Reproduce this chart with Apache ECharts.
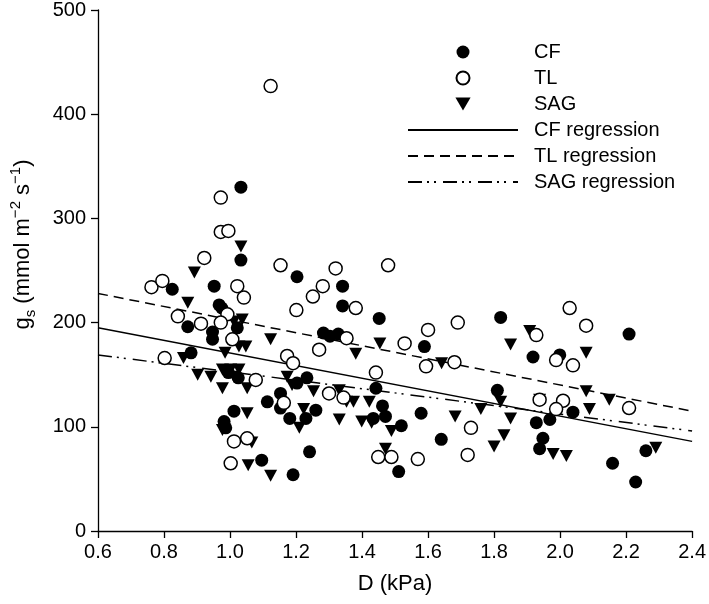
<!DOCTYPE html>
<html>
<head>
<meta charset="utf-8">
<script src="https://cdn.jsdelivr.net/npm/echarts@6/dist/echarts.min.js"></script>
<style>
html,body{margin:0;padding:0;background:#fff;}
#chart{width:709px;height:604px;}
</style>
</head>
<body>
<div id="chart"></div>
<script>
// D (kPa), gs (mmol m-2 s-1)
const cfPoints = [
  [1.033,330],[1.033,260],[0.825,232],[0.952,235],[0.967,217],[0.975,214],[0.872,196],
  [1.022,195],[0.947,191],[0.947,184],[0.882,171],[1.203,244],[1.341,235],[1.341,216],
  [1.452,204],[1.283,190],[1.303,187],[1.328,189],[1.589,177],[1.82,205],[2.209,189],
  [1.918,167],[1.999,169],[0.995,152],[1.025,147],[1.153,132],[1.113,124],[1.153,118],
  [1.203,142],[1.233,147],[1.181,108],[1.26,116],[1.23,108],[1.442,137],[1.462,120],
  [1.471,110],[1.434,108],[1.519,101],[1.579,113],[1.012,115],[0.982,105],[0.987,99],
  [1.096,68],[1.241,76],[1.191,54],[1.511,57],[1.64,88],[1.81,135],[2.039,114],
  [1.969,107],[1.928,104],[1.948,89],[1.938,79],[2.159,65],[2.229,47],[2.26,77]
];
const tlPoints = [
  [1.123,427],[0.972,320],[0.972,287],[0.995,288],[0.922,262],[0.762,234],[0.795,240],
  [1.022,235],[1.042,224],[0.842,206],[0.912,199],[0.992,208],[0.972,200],[1.007,184],
  [1.078,145],[0.802,166],[1.012,86],[1.052,89],[1.002,65],[1.153,255],[1.32,252],
  [1.479,255],[1.281,235],[1.251,225],[1.381,214],[1.201,212],[1.353,185],[1.529,180],
  [1.6,193],[1.27,174],[1.594,158],[1.173,168],[1.191,161],[1.442,152],[1.163,123],
  [1.3,132],[1.344,128],[1.449,71],[1.489,71],[1.569,69],[1.69,200],[2.029,214],
  [2.079,197],[1.928,188],[1.988,164],[2.039,159],[1.68,162],[1.73,99],[1.72,73],
  [1.938,126],[2.009,125],[1.988,117],[2.209,118]
];
const sagPoints = [
  [1.033,273],[0.892,248],[0.872,219],[1.012,201],[1.037,203],[1.048,177],[1.027,177],
  [0.859,166],[0.985,171],[1.123,184],[0.902,150],[0.942,148],[0.977,155],[1.002,155],
  [1.027,155],[0.977,137],[1.052,137],[1.012,148],[1.052,113],[0.977,97],[1.066,85],
  [1.055,63],[1.123,53],[1.173,148],[1.188,140],[1.253,134],[1.331,135],[1.353,124],
  [1.374,124],[1.422,124],[1.223,117],[1.21,99],[1.331,107],[1.399,105],[1.429,104],
  [1.489,96],[1.471,79],[1.381,170],[1.454,180],[1.908,192],[1.85,179],[2.079,171],
  [1.641,161],[1.82,124],[1.76,117],[1.682,110],[1.85,108],[1.83,92],[1.8,81],
  [1.938,126],[2.079,134],[2.089,117],[2.149,126],[1.979,74],[2.019,72],[2.29,80]
];
const cfRegression = [[0.6,195],[2.4,86]];
const tlRegression = [[0.6,228],[2.4,115]];
const sagRegression = [[0.6,169],[2.4,96]];
const xTicks = {min:0.6, max:2.4, step:0.2};
const yTicks = {min:0, max:500, step:100};
const legendNames = ['CF','TL','SAG','CF regression','TL regression','SAG regression'];

const FONT = "'Liberation Sans', Arial, sans-serif";
const chart = echarts.init(document.getElementById('chart'), null, {renderer:'canvas'});
chart.setOption({
  backgroundColor:'#fff',
  animation:false,
  textStyle:{fontFamily:FONT, color:'#000'},
  grid:{left:98, right:13, top:8, bottom:73},
  legend:{
    orient:'vertical', left:407, top:42, padding:0, itemWidth:110, itemHeight:13, itemGap:6,
    symbolKeepAspect:true,
    textStyle:{fontFamily:FONT, fontSize:20, color:'#000', lineHeight:20, padding:[0,0,0,11]},
    data:[
      {name:legendNames[0]},
      {name:legendNames[1]},
      {name:legendNames[2], icon:'path://M0,0L14,0L7,12Z'},
      {name:legendNames[3], itemStyle:{opacity:0}},
      {name:legendNames[4], itemStyle:{opacity:0}},
      {name:legendNames[5], itemStyle:{opacity:0}}
    ]
  },
  xAxis:{
    type:'value', min:xTicks.min, max:xTicks.max, interval:xTicks.step,
    name:'D (kPa)', nameLocation:'middle', nameGap:42,
    nameTextStyle:{fontFamily:FONT, fontSize:22, color:'#000'},
    axisLine:{onZero:false, lineStyle:{color:'#000', width:1.3}},
    axisTick:{show:true, length:7, lineStyle:{color:'#000', width:1.3}},
    axisLabel:{fontFamily:FONT, fontSize:20, color:'#000', margin:11, formatter:v=>v.toFixed(1)},
    splitLine:{show:false}
  },
  yAxis:{
    type:'value', min:yTicks.min, max:yTicks.max, interval:yTicks.step,
    name:'{a|g}{sub|s}{a| (mmol m}{sup|−2}{a| s}{sup|−1}{a|)}',
    nameLocation:'middle', nameGap:60,
    nameTextStyle:{fontFamily:FONT, fontSize:22, color:'#000', padding:[0,0,0,52],
      rich:{
        a:{fontFamily:FONT, fontSize:22, color:'#000', lineHeight:30},
        sub:{fontFamily:FONT, fontSize:15, color:'#000', lineHeight:14, verticalAlign:'bottom'},
        sup:{fontFamily:FONT, fontSize:15, color:'#000', lineHeight:14, verticalAlign:'top'}
      }},
    axisLine:{show:true, onZero:false, lineStyle:{color:'#000', width:1.3}},
    axisTick:{show:true, length:7, lineStyle:{color:'#000', width:1.3}},
    axisLabel:{fontFamily:FONT, fontSize:20, color:'#000', margin:12},
    splitLine:{show:false}
  },
  series:[
    {name:legendNames[3], type:'line', data:cfRegression, symbol:'none', z:1,
      lineStyle:{color:'#000', width:1.5, type:'solid'}, itemStyle:{color:'#000'}},
    {name:legendNames[4], type:'line', data:tlRegression, symbol:'none', z:1,
      lineStyle:{color:'#000', width:1.5, type:[10,6]}, itemStyle:{color:'#000'}},
    {name:legendNames[5], type:'line', data:sagRegression, symbol:'none', z:1,
      lineStyle:{color:'#000', width:1.5, type:[14,5,2,5,2,7]}, itemStyle:{color:'#000'}},
    {name:legendNames[0], type:'scatter', data:cfPoints, symbol:'circle', symbolSize:13, z:3,
      itemStyle:{color:'#000', opacity:1}},
    {name:legendNames[1], type:'scatter', data:tlPoints, symbol:'circle', symbolSize:13, z:4,
      itemStyle:{color:'#fff', borderColor:'#000', borderWidth:1.5, opacity:1}},
    {name:legendNames[2], type:'scatter', data:sagPoints, symbol:'triangle', symbolRotate:180, symbolSize:[13,12], z:3,
      itemStyle:{color:'#000', opacity:1}}
  ]
});
</script>
</body>
</html>
